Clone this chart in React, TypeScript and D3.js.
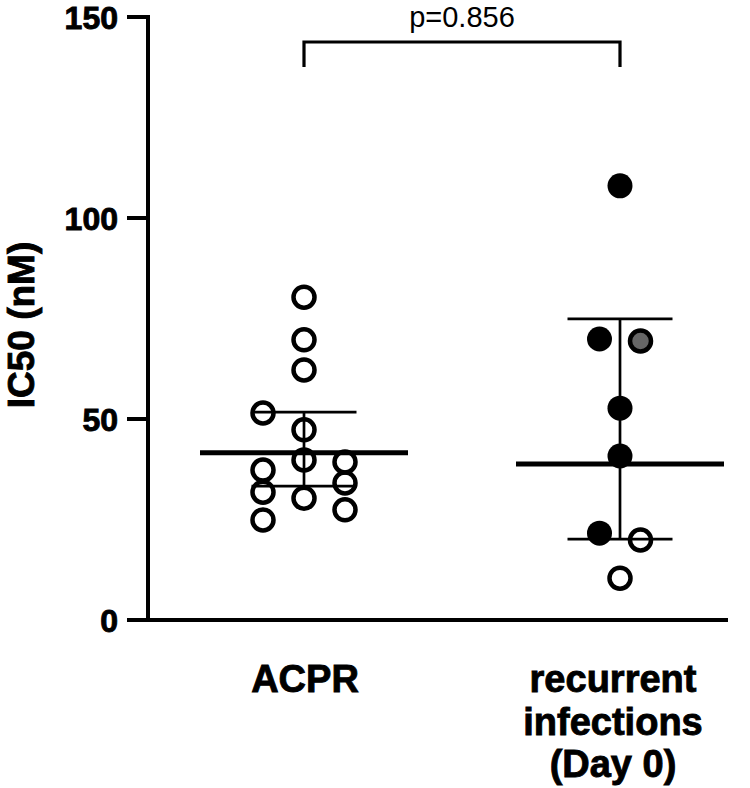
import React from "react";
import * as d3 from "d3";

// ---- data ----
const categories = ["ACPR", "recurrent infections (Day 0)"];
const categoryLines = [["ACPR"], ["recurrent", "infections", "(Day 0)"]];

// ACPR: all open circles
const acprValues = [80.3, 69.7, 62.2, 51.5, 47.3, 39.8, 39.3, 37.3, 34.1, 31.8, 30.3, 27.4, 24.9];
const acprSlots = [0, 0, 0, -1, 0, 0, 1, -1, 1, -1, 0, 1, -1];
const acprKinds = acprValues.map(() => "open");

// recurrent infections (Day 0)
const recValues = [108, 69.9, 69.4, 52.7, 40.8, 21.6, 19.9, 10.4];
const recSlots = [0, -1, 1, 0, 0, -1, 1, 0];
const recKinds = ["filled", "filled", "gray", "filled", "filled", "filled", "open", "open"];

// summary lines (geometric mean with 95% CI)
const centerValues = [41.6, 38.8];
const lowerValues = [33.3, 20.1];
const upperValues = [51.7, 74.9];

const yTicks = [0, 50, 100, 150];
const pLabel = "p=0.856";
const yTitle = "IC50 (nM)";

const FONT = "'Liberation Sans', Arial, Helvetica, sans-serif";

export default function App() {
  const W = 750;
  const H = 788;
  const axisX = 148;
  const axisRight = 728;
  const y = d3.scaleLinear().domain([0, 150]).range([620, 17]);
  const x = d3.scalePoint<string>().domain(categories).range([304, 620]);
  const slotSpacing = [41, 20.5];
  const meanHalf = 104;
  const capHalf = 52.5;
  const r = 10.5;

  const groups = [
    { values: acprValues, slots: acprSlots, kinds: acprKinds },
    { values: recValues, slots: recSlots, kinds: recKinds },
  ];

  const x0 = x(categories[0])!;
  const x1 = x(categories[1])!;

  const boldText = {
    fontFamily: FONT,
    fontWeight: "bold" as const,
    fill: "#000",
    stroke: "#000",
    strokeWidth: 0.9,
  };

  return (
    <svg width={W} height={H} style={{ position: "absolute", left: 0, top: 0, background: "#fff" }}>
      <rect x={0} y={0} width={W} height={H} fill="#fff" />
      {/* axes */}
      <line x1={axisX} x2={axisX} y1={y(150) - 2} y2={y(0) + 2} stroke="#000" strokeWidth={4} />
      <line x1={axisX - 2} x2={axisRight} y1={y(0)} y2={y(0)} stroke="#000" strokeWidth={4} />
      {yTicks.map((t) => (
        <g key={t}>
          <line x1={127} x2={axisX} y1={y(t)} y2={y(t)} stroke="#000" strokeWidth={4} />
          <text x={118} y={y(t) + 12} textAnchor="end" fontSize={32} {...boldText}>
            {t}
          </text>
        </g>
      ))}
      <text
        transform={`translate(34, 325) rotate(-90)`}
        textAnchor="middle"
        fontSize={37}
        {...boldText}
      >
        {yTitle}
      </text>

      {/* category labels */}
      {categoryLines.map((lines, i) => (
        <text key={i} textAnchor="middle" fontSize={38} {...boldText}>
          {lines.map((l, j) => (
            <tspan key={j} x={x(categories[i])! + (i === 0 ? 1 : -7)} y={692 + j * 42.5}>
              {l}
            </tspan>
          ))}
        </text>
      ))}

      {/* error bars */}
      {categories.map((c, i) => {
        const cx = x(c)!;
        return (
          <g key={c}>
            <line x1={cx} x2={cx} y1={y(upperValues[i])} y2={y(lowerValues[i])} stroke="#000" strokeWidth={2.7} />
            <line x1={cx - capHalf} x2={cx + capHalf} y1={y(upperValues[i])} y2={y(upperValues[i])} stroke="#000" strokeWidth={2.7} />
            <line x1={cx - capHalf} x2={cx + capHalf} y1={y(lowerValues[i])} y2={y(lowerValues[i])} stroke="#000" strokeWidth={2.7} />
          </g>
        );
      })}

      {/* points */}
      {groups.map((g, i) =>
        g.values.map((v, j) => {
          const kind = g.kinds[j];
          const cx = x(categories[i])! + g.slots[j] * slotSpacing[i];
          if (kind === "filled") {
            return <circle key={`${i}-${j}`} cx={cx} cy={y(v)} r={12.5} fill="#000" />;
          }
          return (
            <circle
              key={`${i}-${j}`}
              cx={cx}
              cy={y(v)}
              r={r}
              fill={kind === "gray" ? "#666" : "none"}
              stroke="#000"
              strokeWidth={4.5}
            />
          );
        })
      )}

      {/* center lines */}
      {categories.map((c, i) => {
        const cx = x(c)!;
        return (
          <line
            key={c}
            x1={cx - meanHalf}
            x2={cx + meanHalf}
            y1={y(centerValues[i])}
            y2={y(centerValues[i])}
            stroke="#000"
            strokeWidth={5}
          />
        );
      })}

      {/* significance bracket */}
      <path d={`M${x0},67 V42 H${x1} V67`} fill="none" stroke="#000" strokeWidth={3.2} />
      <text x={(x0 + x1) / 2} y={27} textAnchor="middle" fontFamily={FONT} fontSize={29} fill="#000">
        {pLabel}
      </text>
    </svg>
  );
}
